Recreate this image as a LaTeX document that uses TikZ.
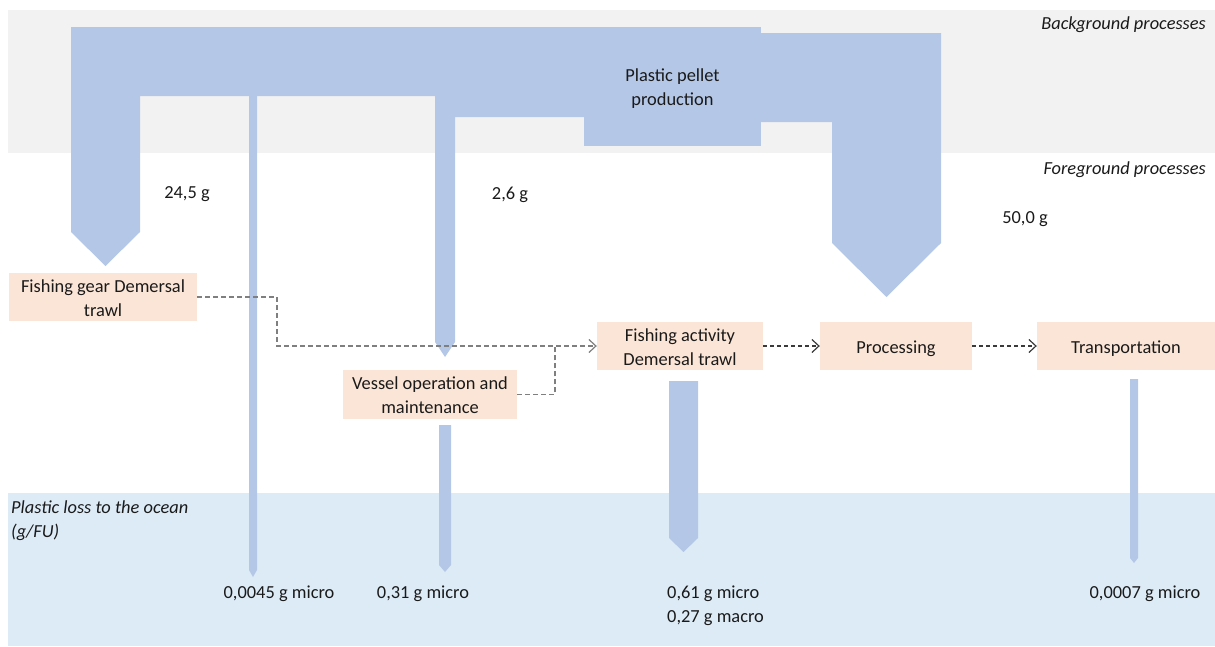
\documentclass[tikz,border=0pt]{standalone}
\usepackage{fontspec}
\setmainfont{Carlito}
\usetikzlibrary{arrows.meta}
\definecolor{bandgray}{HTML}{F2F2F2}
\definecolor{oceanblue}{HTML}{DDEBF7}
\definecolor{flowblue}{HTML}{B4C7E7}
\definecolor{peach}{HTML}{FBE5D6}
\definecolor{inktext}{HTML}{1A1A1A}
\definecolor{dashgray}{HTML}{7F7F7F}
\definecolor{dashdark}{HTML}{3A3A3A}
% centred lines of box text, set a little below the box's middle
\newcommand{\boxlines}[1]{\raisebox{-2.5pt}[\height][\depth]{%
  \begin{tabular}{@{}c@{}}#1\end{tabular}}}
\tikzset{
  every node/.style={font=\fontsize{18.4}{24}\selectfont, text=inktext},
  flow/.style={fill=flowblue, draw=none},
  procbox/.style={fill=peach, draw=none, inner sep=0pt,
                  minimum height=48pt},
  plainlabel/.style={inner sep=0pt, align=center},
  tierlabel/.style={inner sep=0pt, font=\fontsize{18.4}{24}\selectfont\itshape},
  linkgray/.style={draw=dashgray, line width=1.3pt, dash pattern=on 5pt off 3pt},
  linkdark/.style={draw=dashdark, line width=1.2pt, dash pattern=on 4pt off 3pt},
  chevron/.style={-{Straight Barb[length=7pt, width=13pt, line width=1.2pt]}},
}
\begin{document}
\begin{tikzpicture}[x=1pt, y=-1pt]
\useasboundingbox (0,0) rectangle (1215,646);

% tiers
\fill[bandgray] (8,10) rectangle (1215,153);
\fill[oceanblue] (8,493) rectangle (1215,646);

% tier captions
\node[tierlabel, anchor=east] (bgcap) at (1206,24.5) {Background processes};
\node[tierlabel, anchor=east] (fgcap) at (1206,170) {Foreground processes};
\node[tierlabel, anchor=west, align=left] (oceancap) at (11,521) {Plastic loss to the ocean\\(g/FU)};

% material flows from pellet production
\fill[flow] (584,27) -- (71,27) -- (71,232) -- (105.5,266) -- (140,232)
  -- (140,96) -- (584,96) -- cycle;
\fill[flow] (249,96) -- (249,570) -- (253,577) -- (257,570) -- (257,96) -- cycle;
\fill[flow] (584,96) -- (435,96) -- (435,342) -- (445,357) -- (455,342)
  -- (455,117) -- (584,117) -- cycle;
\fill[flow] (761,33) -- (941,33) -- (941,243) -- (886.5,297) -- (832,243)
  -- (832,122) -- (761,122) -- cycle;

\node[flow, minimum width=177pt, minimum height=119pt, inner sep=0pt]
  (pellet) at (672.5,86.5) {\boxlines{Plastic pellet\\production}};

% flow amounts
\node[plainlabel] (m1) at (187,194.5) {24,5 g};
\node[plainlabel] (m2) at (510,194.5) {2,6 g};
\node[plainlabel] (m3) at (1025,219.5) {50,0 g};

% foreground processes
\node[procbox, minimum width=188pt] (gear) at (103,297) {\boxlines{Fishing gear Demersal\\trawl}};
\node[procbox, minimum width=174pt, minimum height=49pt] (vessel) at (430,394.5) {\boxlines{Vessel operation and\\maintenance}};
\node[procbox, minimum width=166pt] (activity) at (680,346) {\boxlines{Fishing activity\\Demersal trawl}};
\node[procbox, minimum width=152pt] (processing) at (896,346) {\boxlines{Processing}};
\node[procbox, minimum width=178pt] (transport) at (1126,346) {\boxlines{Transportation}};

% losses to the ocean
\fill[flow] (439,425) -- (439,565) -- (445,572) -- (451,565) -- (451,425) -- cycle;
\fill[flow] (669,381) -- (669,538) -- (683.5,552) -- (698,538) -- (698,381) -- cycle;
\fill[flow] (1130,379) -- (1130,558) -- (1134,563) -- (1138,558) -- (1138,379) -- cycle;

\node[plainlabel] (l1) at (279,593.5) {0,0045 g micro};
\node[plainlabel] (l2) at (423,593.5) {0,31 g micro};
\node[plainlabel, anchor=west, align=left] (l3) at (667,605.5) {0,61 g micro\\0,27 g macro};
\node[plainlabel] (l4) at (1145,593.5) {0,0007 g micro};

% process chain
\coordinate (jgear) at (277,0);
\coordinate (jvessel) at (555,0);
\draw[linkgray, chevron] (gear.east) -- (gear.east -| jgear) |- (activity.west);
\draw[linkgray] (vessel.east) -| (activity.west -| jvessel);
\draw[linkdark, chevron] (activity.east) -- (processing.west);
\draw[linkdark, chevron] (processing.east) -- (transport.west);
\end{tikzpicture}
\end{document}
